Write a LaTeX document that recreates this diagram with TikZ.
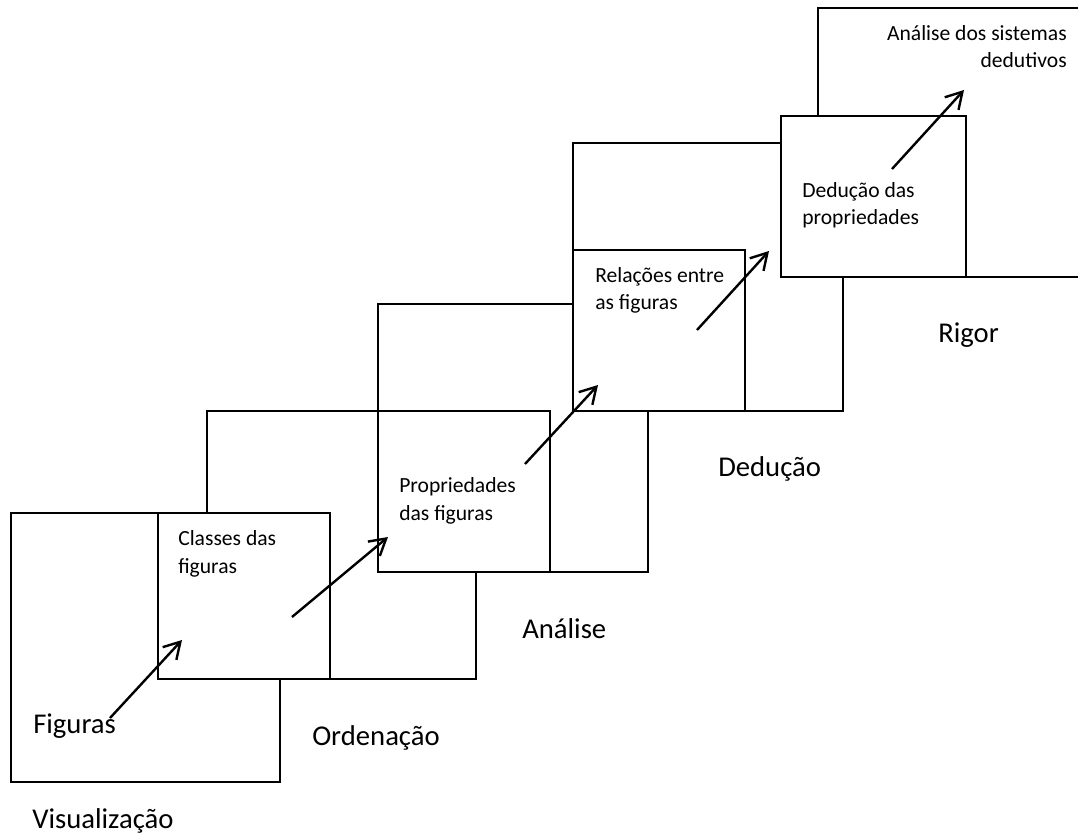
\documentclass[tikz,border=0pt]{standalone}
\usepackage{fontspec}
\setmainfont{Carlito}
\usetikzlibrary{arrows.meta}
\newcommand{\bigfont}{\fontsize{21.5}{26}\selectfont}
\newcommand{\smallfont}{\fontsize{16.2}{20.6}\selectfont}
\tikzset{
  box/.style={draw=black, fill=white, line width=1.8pt, inner sep=0pt, outer sep=0pt, anchor=north west},
  biglabel/.style={font=\bigfont, inner sep=0pt, anchor=base west, text=black},
  smalllabel/.style={font=\smallfont, inner sep=0pt, anchor=base west, align=left, text=black},
  stair/.style={line width=1.8pt, -{Straight Barb[length=12pt,width=14pt,line width=1.8pt]}}
}
\begin{document}
\begin{tikzpicture}[x=0.75pt, y=-0.75pt]
\useasboundingbox (0,0) rectangle (1078,834);
\clip (0,0) rectangle (1078,834);
% large boxes (back to front)
\node[box, minimum width=211.5pt, minimum height=201.75pt] (R) at (818,8) {};
\node[box, minimum width=202.5pt, minimum height=201pt] (D) at (573,143) {};
\node[box, minimum width=202.5pt, minimum height=201pt] (A) at (378,304) {};
\node[box, minimum width=201.75pt, minimum height=201pt] (O) at (207,411) {};
\node[box, minimum width=201.75pt, minimum height=201.75pt] (V) at (11,513) {};
% small boxes
\node[box, minimum width=129pt, minimum height=124.5pt] (classes) at (158,513) {};
\node[box, minimum width=129pt, minimum height=120.75pt] (prop) at (378,411) {};
\node[box, minimum width=129pt, minimum height=120.75pt] (rel) at (573,250) {};
\node[box, minimum width=138.75pt, minimum height=120.75pt] (ded) at (781,116) {};
% texts
\node[biglabel] (tFig) at (33,733) {Figuras};
\node[biglabel] (tVis) at (32,828) {Visualização};
\node[biglabel] (tOrd) at (312,745) {Ordenação};
\node[biglabel] (tAna) at (522,638) {Análise};
\node[biglabel] (tDed) at (718,476) {Dedução};
\node[biglabel] (tRig) at (938,343) {Rigor};
% multi-line labels: anchor base = baseline of last line
\node[smalllabel] (tClasses) at (178,573) {Classes das\\figuras};
\node[smalllabel] (tProp) at (399,520) {Propriedades\\das figuras};
\node[smalllabel] (tRel) at (595,310) {Relações entre\\as figuras};
\node[smalllabel] (tDedP) at (802,225) {Dedução das\\propriedades};
\node[font=\smallfont, inner sep=0pt, anchor=base east, align=right] (tSis) at (1067,68) {Análise dos sistemas\\dedutivos};
% arrows
\coordinate (a1s) at (110,718); \coordinate (a1e) at (182,640);
\coordinate (a2s) at (292,617); \coordinate (a2e) at (388,537);
\coordinate (a3s) at (525,464); \coordinate (a3e) at (598,385);
\coordinate (a4s) at (697,330); \coordinate (a4e) at (769,251);
\coordinate (a5s) at (892,169); \coordinate (a5e) at (964,90);
\draw[stair] (a1s) -- (a1e);
\draw[stair] (a2s) -- (a2e);
\draw[stair] (a3s) -- (a3e);
\draw[stair] (a4s) -- (a4e);
\draw[stair] (a5s) -- (a5e);
\end{tikzpicture}
\end{document}
